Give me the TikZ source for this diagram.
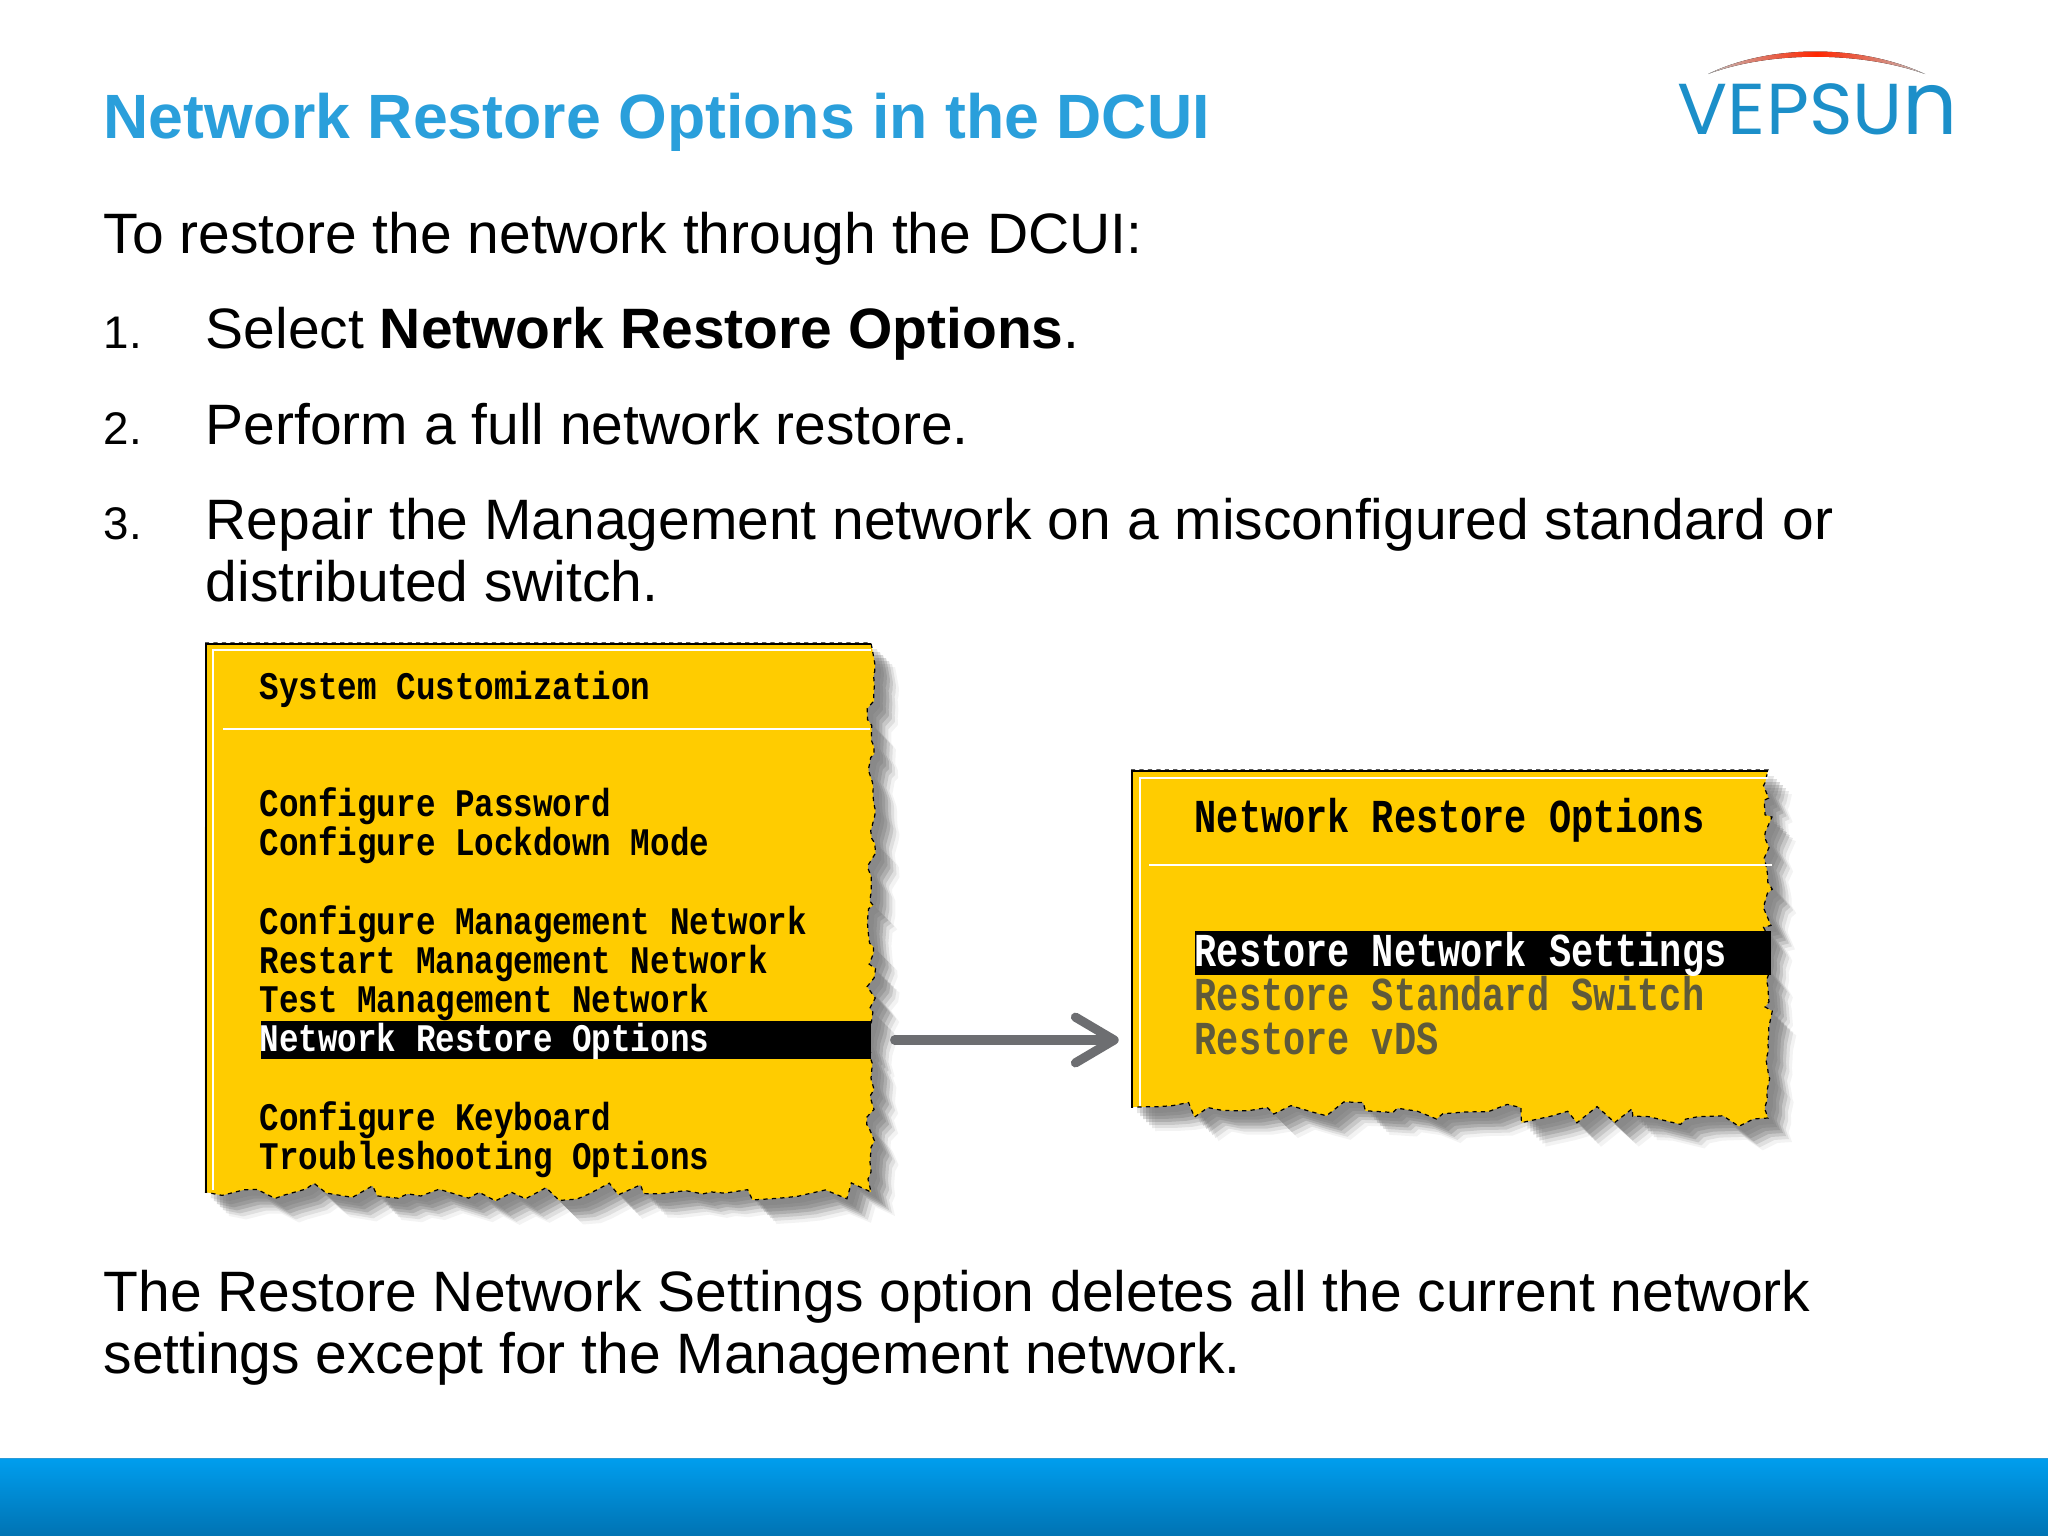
\documentclass[tikz,border=0pt]{standalone}
\usepackage{graphicx}
\usepackage{fontspec}
\setmainfont{Liberation Sans}
\newfontfamily\menufont{Liberation Mono}
\newfontfamily\logofont{Poppins}
\usetikzlibrary{arrows.meta,decorations.pathmorphing}
\definecolor{titleblue}{HTML}{2A9FDB}
\definecolor{menuyellow}{HTML}{FFCC00}
\definecolor{greyout}{HTML}{5F5A3A}
\definecolor{arrowgrey}{HTML}{6D6E71}
\definecolor{logoblue}{HTML}{1C8FC9}
\definecolor{bandtop}{HTML}{009EEE}
\definecolor{bandlow}{HTML}{0073B3}
\definecolor{bandline}{HTML}{2A9BD8}
\newcommand{\lmenu}[1]{\scalebox{1}[1.2]{\fontsize{9.26pt}{10pt}\menufont\bfseries #1}}
\newcommand{\rmenu}[1]{\scalebox{1}[1.28]{\fontsize{10.5pt}{11pt}\menufont\bfseries #1}}
% right side and bottom side are torn
\newcommand{\tornpath}[5]{
  (#1,#2) -- (#3,#2)
  decorate[decoration={random steps,segment length=2.4pt,amplitude=1.3pt}] {-- (#3,#4)}
  decorate[decoration={random steps,segment length=4.5pt,amplitude=2.6pt}] {-- (#1,#5)}
}
\tikzset{
  body/.style={anchor=base west, inner sep=0pt, font=\fontsize{16.2pt}{19pt}\selectfont},
  num/.style={anchor=base west, inner sep=0pt, font=\fontsize{13pt}{15pt}\selectfont},
  item/.style={anchor=base west, inner sep=0pt},
  bar/.style={anchor=west, fill=black, inner sep=0pt},
  panel/.style={anchor=north west, inner sep=0pt},
  flow/.style={arrowgrey, line width=2.6pt, line cap=round, shorten <=6.5pt, shorten >=3.5pt,
    -{Straight Barb[length=11pt,width=13pt,round]}}
}

\begin{document}
\begin{tikzpicture}[x=0.01cm,y=-0.01cm]
  \useasboundingbox (0,0) rectangle (2048,1536);
  % title and logo
  \node[anchor=base west, inner sep=0pt, text=titleblue, font=\fontsize{17.8pt}{20pt}\selectfont\bfseries] (title) at (103,138) {Network Restore Options in the DCUI};
  \node[anchor=base west, inner sep=0pt, text=logoblue, font=\fontsize{20.5pt}{22pt}\logofont] (logo) at (1677,134) {\scalebox{1.03}[1]{VEPSU}\scalebox{1.2}[1.22]{n}};
  \fill[left color=gray!50, right color=gray!50, middle color=red!70!orange]
    (1708,74) .. controls (1770,44) and (1860,44) .. (1925,74)
    .. controls (1860,51) and (1770,51) .. (1708,74);
  % text above the screens
  \node[body] (intro) at (103,253) {To restore the network through the DCUI:};
  \node[num] (n1) at (103,348) {1.};
  \node[body] (s1) at (205,348) {Select \textbf{Network Restore Options}.};
  \node[num] (n2) at (103,444) {2.};
  \node[body] (s2) at (205,444) {Perform a full network restore.};
  \node[num] (n3) at (103,539) {3.};
  \node[body] (s3) at (205,539) {Repair the Management network on a misconfigured standard or};
  \node[body] (s3b) at (205,601) {distributed switch.};
  % left screen
  \foreach \d/\o in {6/0.16,9/0.22,12/0.26,15/0.26,18/0.2,21/0.14,24/0.08} {
    \pgfmathsetseed{41}
    \begin{scope}[xshift=\d*0.01cm,yshift=-\d*0.01cm]
      \fill[black!60,opacity=\o] \tornpath{205}{643}{871}{1192}{1192};
    \end{scope}
  }
  \pgfmathsetseed{41}
  \fill[menuyellow] \tornpath{205}{643}{871}{1192}{1192};
  \pgfmathsetseed{41}
  \draw[black,line width=0.35pt,dash pattern=on 1.2pt off 1.2pt] \tornpath{205}{643}{871}{1192}{1192};
  \draw[black,line width=0.6pt] (871,644) -- (206,644) -- (206,1193);
  \draw[white,line width=0.7pt] (871,650) -- (213,650) -- (213,1190);
  \draw[white,line width=0.6pt] (223,729) -- (870,729);
  \node[panel] (syspanel) at (205,643) {};
  \node[item] (sys) at (259,699) {\lmenu{System Customization}};
  \node[item] (pw) at (259,816) {\lmenu{Configure Password}};
  \node[item] (lock) at (259,855) {\lmenu{Configure Lockdown Mode}};
  \node[item] (mgmt) at (259,934) {\lmenu{Configure Management Network}};
  \node[item] (restart) at (259,973) {\lmenu{Restart Management Network}};
  \node[item] (test) at (259,1012) {\lmenu{Test Management Network}};
  \node[bar, minimum width=6.1cm, minimum height=0.38cm] (netbar) at (260,1040) {};
  \node[item, text=white] (netrow) at (259,1051) {\lmenu{Network Restore Options}};
  \node[item] (kbd) at (259,1130) {\lmenu{Configure Keyboard}};
  \node[item] (trouble) at (259,1169) {\lmenu{Troubleshooting Options}};
  % right screen
  \foreach \d/\o in {6/0.16,9/0.22,12/0.26,15/0.26,18/0.2,21/0.14,24/0.08} {
    \pgfmathsetseed{17}
    \begin{scope}[xshift=\d*0.01cm,yshift=-\d*0.01cm]
      \fill[black!60,opacity=\o] \tornpath{1131}{770}{1768}{1118}{1107};
    \end{scope}
  }
  \pgfmathsetseed{17}
  \fill[menuyellow] \tornpath{1131}{770}{1768}{1118}{1107};
  \pgfmathsetseed{17}
  \draw[black,line width=0.35pt,dash pattern=on 1.2pt off 1.2pt] \tornpath{1131}{770}{1768}{1118}{1107};
  \draw[black,line width=0.6pt] (1768,771) -- (1132,771) -- (1132,1108);
  \draw[white,line width=0.7pt] (1768,778) -- (1140,778) -- (1140,1106);
  \draw[white,line width=0.6pt] (1149,865) -- (1772,865);
  \node[panel, minimum width=6.37cm, minimum height=3.4cm] (restorepanel) at (1131,770) {};
  \node[item] (nro) at (1194,832) {\rmenu{Network Restore Options}};
  \node[bar, minimum width=5.76cm, minimum height=0.44cm] (setbar) at (1194,953) {};
  \node[item, text=white] (settings) at (1194,966) {\rmenu{Restore Network Settings}};
  \node[item, text=greyout] (standard) at (1194,1010) {\rmenu{Restore Standard Switch}};
  \node[item, text=greyout] (vds) at (1194,1054) {\rmenu{Restore vDS}};
  % arrow between the screens
  \draw[flow] (netbar.east) -- (restorepanel.west |- netbar.east);
  % text below the screens
  \node[body] (end1) at (103,1311) {The Restore Network Settings option deletes all the current network};
  \node[body] (end2) at (103,1373) {settings except for the Management network.};
  % bottom band
  \shade[top color=bandtop, bottom color=bandlow] (0,1458) rectangle (2048,1536);
  \draw[bandline,line width=0.4pt] (0,1458.5) -- (2048,1458.5);
\end{tikzpicture}
\end{document}
